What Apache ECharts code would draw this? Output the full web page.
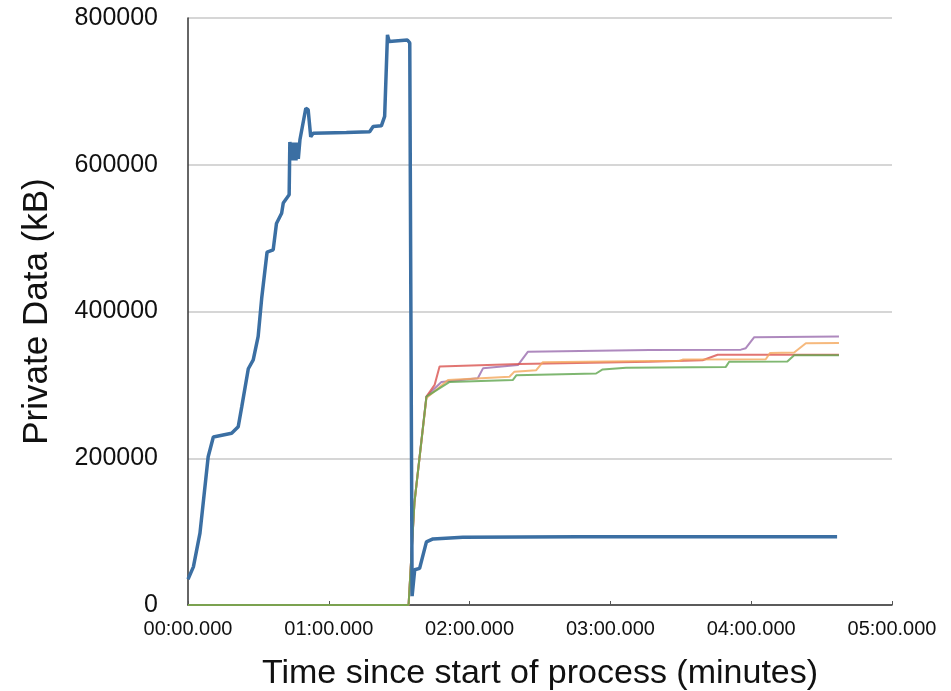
<!DOCTYPE html>
<html>
<head>
<meta charset="utf-8">
<script src="https://cdn.jsdelivr.net/npm/echarts@6/dist/echarts.min.js"></script>
<style>
    html, body { margin: 0; padding: 0; background: #fff; }
    #main { width: 951px; height: 691px; }
</style>
</head>
<body>
<div id="main"></div>
<script>
// time in seconds, private data in kB
var mainProcess = [[0, 35000], [2.3, 52000], [5.1, 98000], [8.6, 202000], [10.8, 229000], [18.6, 234000], [21.4, 243000],
    [22.9, 270000], [25.7, 322000], [27.8, 334000], [29.9, 366000], [31.4, 418000], [33.7, 481000], [36.3, 484000],
    [37.7, 520000], [39.9, 534000], [40.6, 548000], [43.1, 559000], [43.4, 631000], [44.0, 606000], [44.5, 630000],
    [45.0, 606000], [45.5, 630000], [46.0, 606000], [46.5, 630000], [47.0, 608000], [47.7, 634000], [50.2, 677000],
    [51.2, 675000], [52.3, 638000], [53.3, 643000], [67.5, 644000], [77.4, 645000], [78.9, 652000], [82.4, 653000],
    [83.8, 666000], [85.0, 777000], [85.7, 768000], [93.5, 770000], [94.5, 766000], [95.5, 12000], [96.6, 48000],
    [98.7, 50000], [101.6, 86000], [104.4, 90000], [117.1, 92300], [166.8, 93000], [276.6, 93000]];

var childPurple = [[0, 0], [94, 0], [96.5, 140000], [101.6, 284000], [104.4, 293000], [108, 304000], [123.5, 309000],
    [125.7, 322500], [140.6, 327000], [144.8, 345000], [196.6, 347500], [235.6, 348000], [237.7, 350000],
    [241.3, 365000], [277.4, 366000]];
var childRed = [[0, 0], [94, 0], [96.5, 140000], [101.6, 284000], [105.1, 300000], [107.2, 325000], [141.3, 328500],
    [196.6, 331500], [219.3, 333500], [225.7, 341000], [277.4, 341000]];
var childOrange = [[0, 0], [94, 0], [96.5, 140000], [101.6, 282000], [110.8, 306600], [137, 311000], [139.1, 318000],
    [148.4, 320000], [151.2, 331000], [196.6, 332500], [209.4, 332500], [210.8, 334500], [246.2, 335000],
    [248, 343500], [258.3, 344000], [263.3, 356700], [277.4, 357000]];
var childGreen = [[0, 0], [94, 0], [96.5, 140000], [101.6, 284000], [111.5, 304000], [138.4, 306600], [139.9, 313000],
    [173.9, 315500], [176.7, 321000], [186.7, 323500], [229.2, 324500], [230.6, 331500], [255.4, 332000],
    [258.3, 340500], [277.4, 340500]];

var xTicks = [0, 60, 120, 180, 240, 300];

function fmtTime(v) {
    var m = Math.floor(v / 60);
    var s = v - m * 60;
    var mm = (m < 10 ? '0' : '') + m;
    var ss = (s < 10 ? '0' : '') + s.toFixed(3);
    return mm + ':' + ss;
}

function thin(data, color) {
    return {
        type: 'line',
        data: data,
        showSymbol: false,
        symbol: 'none',
        lineStyle: { color: color, width: 2, opacity: 0.8 },
        z: 2
    };
}

var myChart = echarts.init(document.getElementById('main'));
var option = {
    animation: false,
    backgroundColor: '#fff',
    textStyle: { fontFamily: 'Liberation Sans, Arial, sans-serif' },
    grid: { left: 188, right: 59, top: 18, bottom: 86, outerBoundsMode: 'none' },
    xAxis: {
        type: 'value',
        min: xTicks[0],
        max: xTicks[xTicks.length - 1],
        interval: 60,
        name: 'Time since start of process (minutes)',
        nameLocation: 'middle',
        nameGap: 52,
        nameTextStyle: { fontSize: 34, color: '#111' },
        axisLine: { lineStyle: { color: '#333', width: 1.5 } },
        axisTick: { inside: true, length: 4, lineStyle: { color: '#555' } },
        axisLabel: { fontSize: 20, color: '#111', margin: 14, formatter: fmtTime },
        splitLine: { show: false }
    },
    yAxis: {
        type: 'value',
        min: 0,
        max: 800000,
        interval: 200000,
        name: 'Private Data (kB)',
        nameLocation: 'middle',
        nameGap: 133,
        nameTextStyle: { fontSize: 35, color: '#111' },
        axisLine: { show: true, lineStyle: { color: '#333', width: 1.5 } },
        axisTick: { show: false },
        axisLabel: { fontSize: 25, color: '#111', margin: 30, formatter: function(v) { return String(v); } },
        splitLine: { lineStyle: { color: '#c8c8c8', width: 1.5 } }
    },
    series: [
        thin(childPurple, '#9a6cae'),
        thin(childRed, '#d9534f'),
        thin(childOrange, '#f4a85c'),
        thin(childGreen, '#5fa54e'),
        {
            type: 'line',
            data: mainProcess,
            showSymbol: false,
            symbol: 'none',
            lineStyle: { color: '#3b6fa3', width: 3.5 },
            z: 3
        }
    ]
};
myChart.setOption(option);
</script>
</body>
</html>
